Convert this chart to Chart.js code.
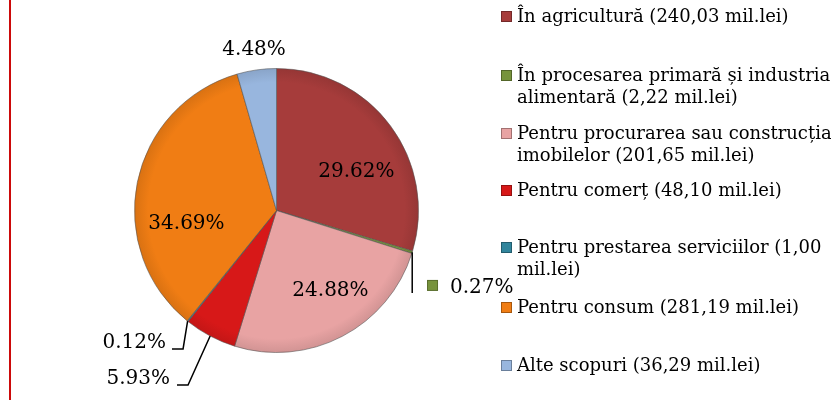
<!DOCTYPE html>
<html>
<head>
<meta charset="utf-8">
<script src="https://cdn.jsdelivr.net/npm/chart.js@4.4.1/dist/chart.umd.min.js"></script>
<style>
  html, body { margin: 0; padding: 0; background: #fff; }
  #wrap { position: relative; width: 831px; height: 400px; overflow: hidden; }
  #redline { position: absolute; left: 9px; top: 0; width: 2px; height: 400px; background: #cc0a0a; }
  #legend { position: absolute; left: 0; top: 0; font-family: "DejaVu Serif", serif; font-size: 18px; color: #000; }
  .item { position: absolute; left: 517px; line-height: 22px; white-space: nowrap; }
  .key { position: absolute; left: -16px; top: 6px; width: 9px; height: 9px; border: 1px solid rgba(0,0,0,0.3); }
</style>
</head>
<body>
<div id="wrap">
  <canvas id="myPieChart" width="831" height="400"></canvas>
  <div id="redline"></div>
  <div id="legend"></div>
</div>
<script>
// credit destinations (mil.lei)
var categories = [
    "În agricultură",
    "În procesarea primară și industria alimentară",
    "Pentru procurarea sau construcția imobilelor",
    "Pentru comerț",
    "Pentru prestarea serviciilor",
    "Pentru consum",
    "Alte scopuri"
];
var values = [240.03, 2.22, 201.65, 48.10, 1.00, 281.19, 36.29];
var percentLabels = ["29.62%", "0.27%", "24.88%", "5.93%", "0.12%", "34.69%", "4.48%"];

var sliceColors = ['#a63c3b', '#77933c', '#e8a3a3', '#d71818', '#31859c', '#f07d14', '#98b6de'];

// legend layout: y of key centre, word after which the line breaks
var legendY = [16, 75, 133, 190, 247, 307, 365];
var legendBreak = [0, 5, 4, 0, 4, 0, 0];

// label layout, offsets in radius units from pie centre
var labelPos = [
    { dx: 0.563, dy: -0.275 },
    { dx: 1.222, dy: 0.546, align: 'left', key: { dx: 1.060, dy: 0.489 }, leader: [{ vertical: true, dy: 0.581 }] },
    { dx: 0.380, dy: 0.563 },
    { dx: -0.750, dy: 1.183, align: 'right', leader: [{ dx: -0.623, dy: 1.229 }, { dx: -0.701, dy: 1.229 }] },
    { dx: -0.778, dy: 0.933, align: 'right', leader: [{ dx: -0.658, dy: 0.975 }, { dx: -0.736, dy: 0.975 }] },
    { dx: -0.634, dy: 0.092 },
    { dx: -0.158, dy: -1.130 }
];

function darken(hex, f) {
    var n = parseInt(hex.slice(1), 16);
    var r = Math.round(((n >> 16) & 255) * f), g = Math.round(((n >> 8) & 255) * f), b = Math.round((n & 255) * f);
    return 'rgb(' + r + ',' + g + ',' + b + ')';
}

function shade(ctx) {
    var chart = ctx.chart, area = chart.chartArea;
    var base = sliceColors[ctx.dataIndex];
    if (!area) return base;
    var cx = (area.left + area.right) / 2, cy = (area.top + area.bottom) / 2;
    var r = Math.min(area.width, area.height) / 2;
    var g = chart.ctx.createRadialGradient(cx, cy, 0, cx, cy, r);
    g.addColorStop(0, base);
    g.addColorStop(0.9, base);
    g.addColorStop(1, darken(base, 0.9));
    return g;
}

function fmt(v) {
    return v.toFixed(2).replace('.', ',');
}

const pieLabels = {
    id: 'pieLabels',
    afterDatasetsDraw(chart) {
        var ctx = chart.ctx;
        var arcs = chart.getDatasetMeta(0).data;
        ctx.save();
        ctx.font = '20px "DejaVu Serif"';
        ctx.fillStyle = '#000';
        ctx.textBaseline = 'middle';
        arcs.forEach(function (arc, i) {
            var p = arc.getProps(['x', 'y', 'startAngle', 'endAngle', 'outerRadius'], true);
            var R = p.outerRadius;
            var lp = labelPos[i];
            if (lp.leader) {
                var mid = (p.startAngle + p.endAngle) / 2;
                var ex = p.x + Math.cos(mid) * R, ey = p.y + Math.sin(mid) * R;
                ctx.beginPath();
                ctx.strokeStyle = '#000';
                ctx.lineWidth = 1.5;
                ctx.moveTo(ex, ey);
                lp.leader.forEach(function (pt) {
                    if (pt.vertical) ctx.lineTo(ex, p.y + pt.dy * R);
                    else ctx.lineTo(p.x + pt.dx * R, p.y + pt.dy * R);
                });
                ctx.stroke();
            }
            if (lp.key) {
                var kx = p.x + lp.key.dx * R, ky = p.y + lp.key.dy * R;
                ctx.fillStyle = sliceColors[i];
                ctx.fillRect(kx, ky, 11, 11);
                ctx.strokeStyle = 'rgba(0,0,0,0.25)';
                ctx.lineWidth = 1;
                ctx.strokeRect(kx + 0.5, ky + 0.5, 10, 10);
                ctx.fillStyle = '#000';
            }
            ctx.textAlign = lp.align || 'center';
            ctx.fillText(percentLabels[i], p.x + lp.dx * R, p.y + lp.dy * R);
        });
        ctx.restore();
    }
};

var ctx = document.getElementById("myPieChart");
var myPieChart = new Chart(ctx, {
    type: 'pie',
    data: {
        labels: categories,
        datasets: [{
            data: values,
            backgroundColor: shade,
            borderColor: 'rgba(80,80,80,0.55)',
            borderWidth: 1,
            hoverOffset: 0
        }]
    },
    options: {
        animation: false,
        responsive: false,
        devicePixelRatio: 1,
        layout: {
            padding: { left: 134, right: 412, top: 68, bottom: 47 }
        },
        plugins: {
            legend: { display: false },
            tooltip: { enabled: false }
        }
    },
    plugins: [pieLabels]
});

// html legend built from the chart data
var legendDiv = document.getElementById('legend');
myPieChart.data.labels.forEach(function (name, i) {
    var text = name + " (" + fmt(values[i]) + " mil.lei)";
    var html = text;
    if (legendBreak[i]) {
        var words = text.split(' ');
        html = words.slice(0, legendBreak[i]).join(' ') + '<br>' + words.slice(legendBreak[i]).join(' ');
    }
    var item = document.createElement('div');
    item.className = 'item';
    item.style.top = (legendY[i] - 11) + 'px';
    item.innerHTML = '<span class="key" style="background:' + sliceColors[i] + '"></span>' + html;
    legendDiv.appendChild(item);
});
</script>
</body>
</html>
